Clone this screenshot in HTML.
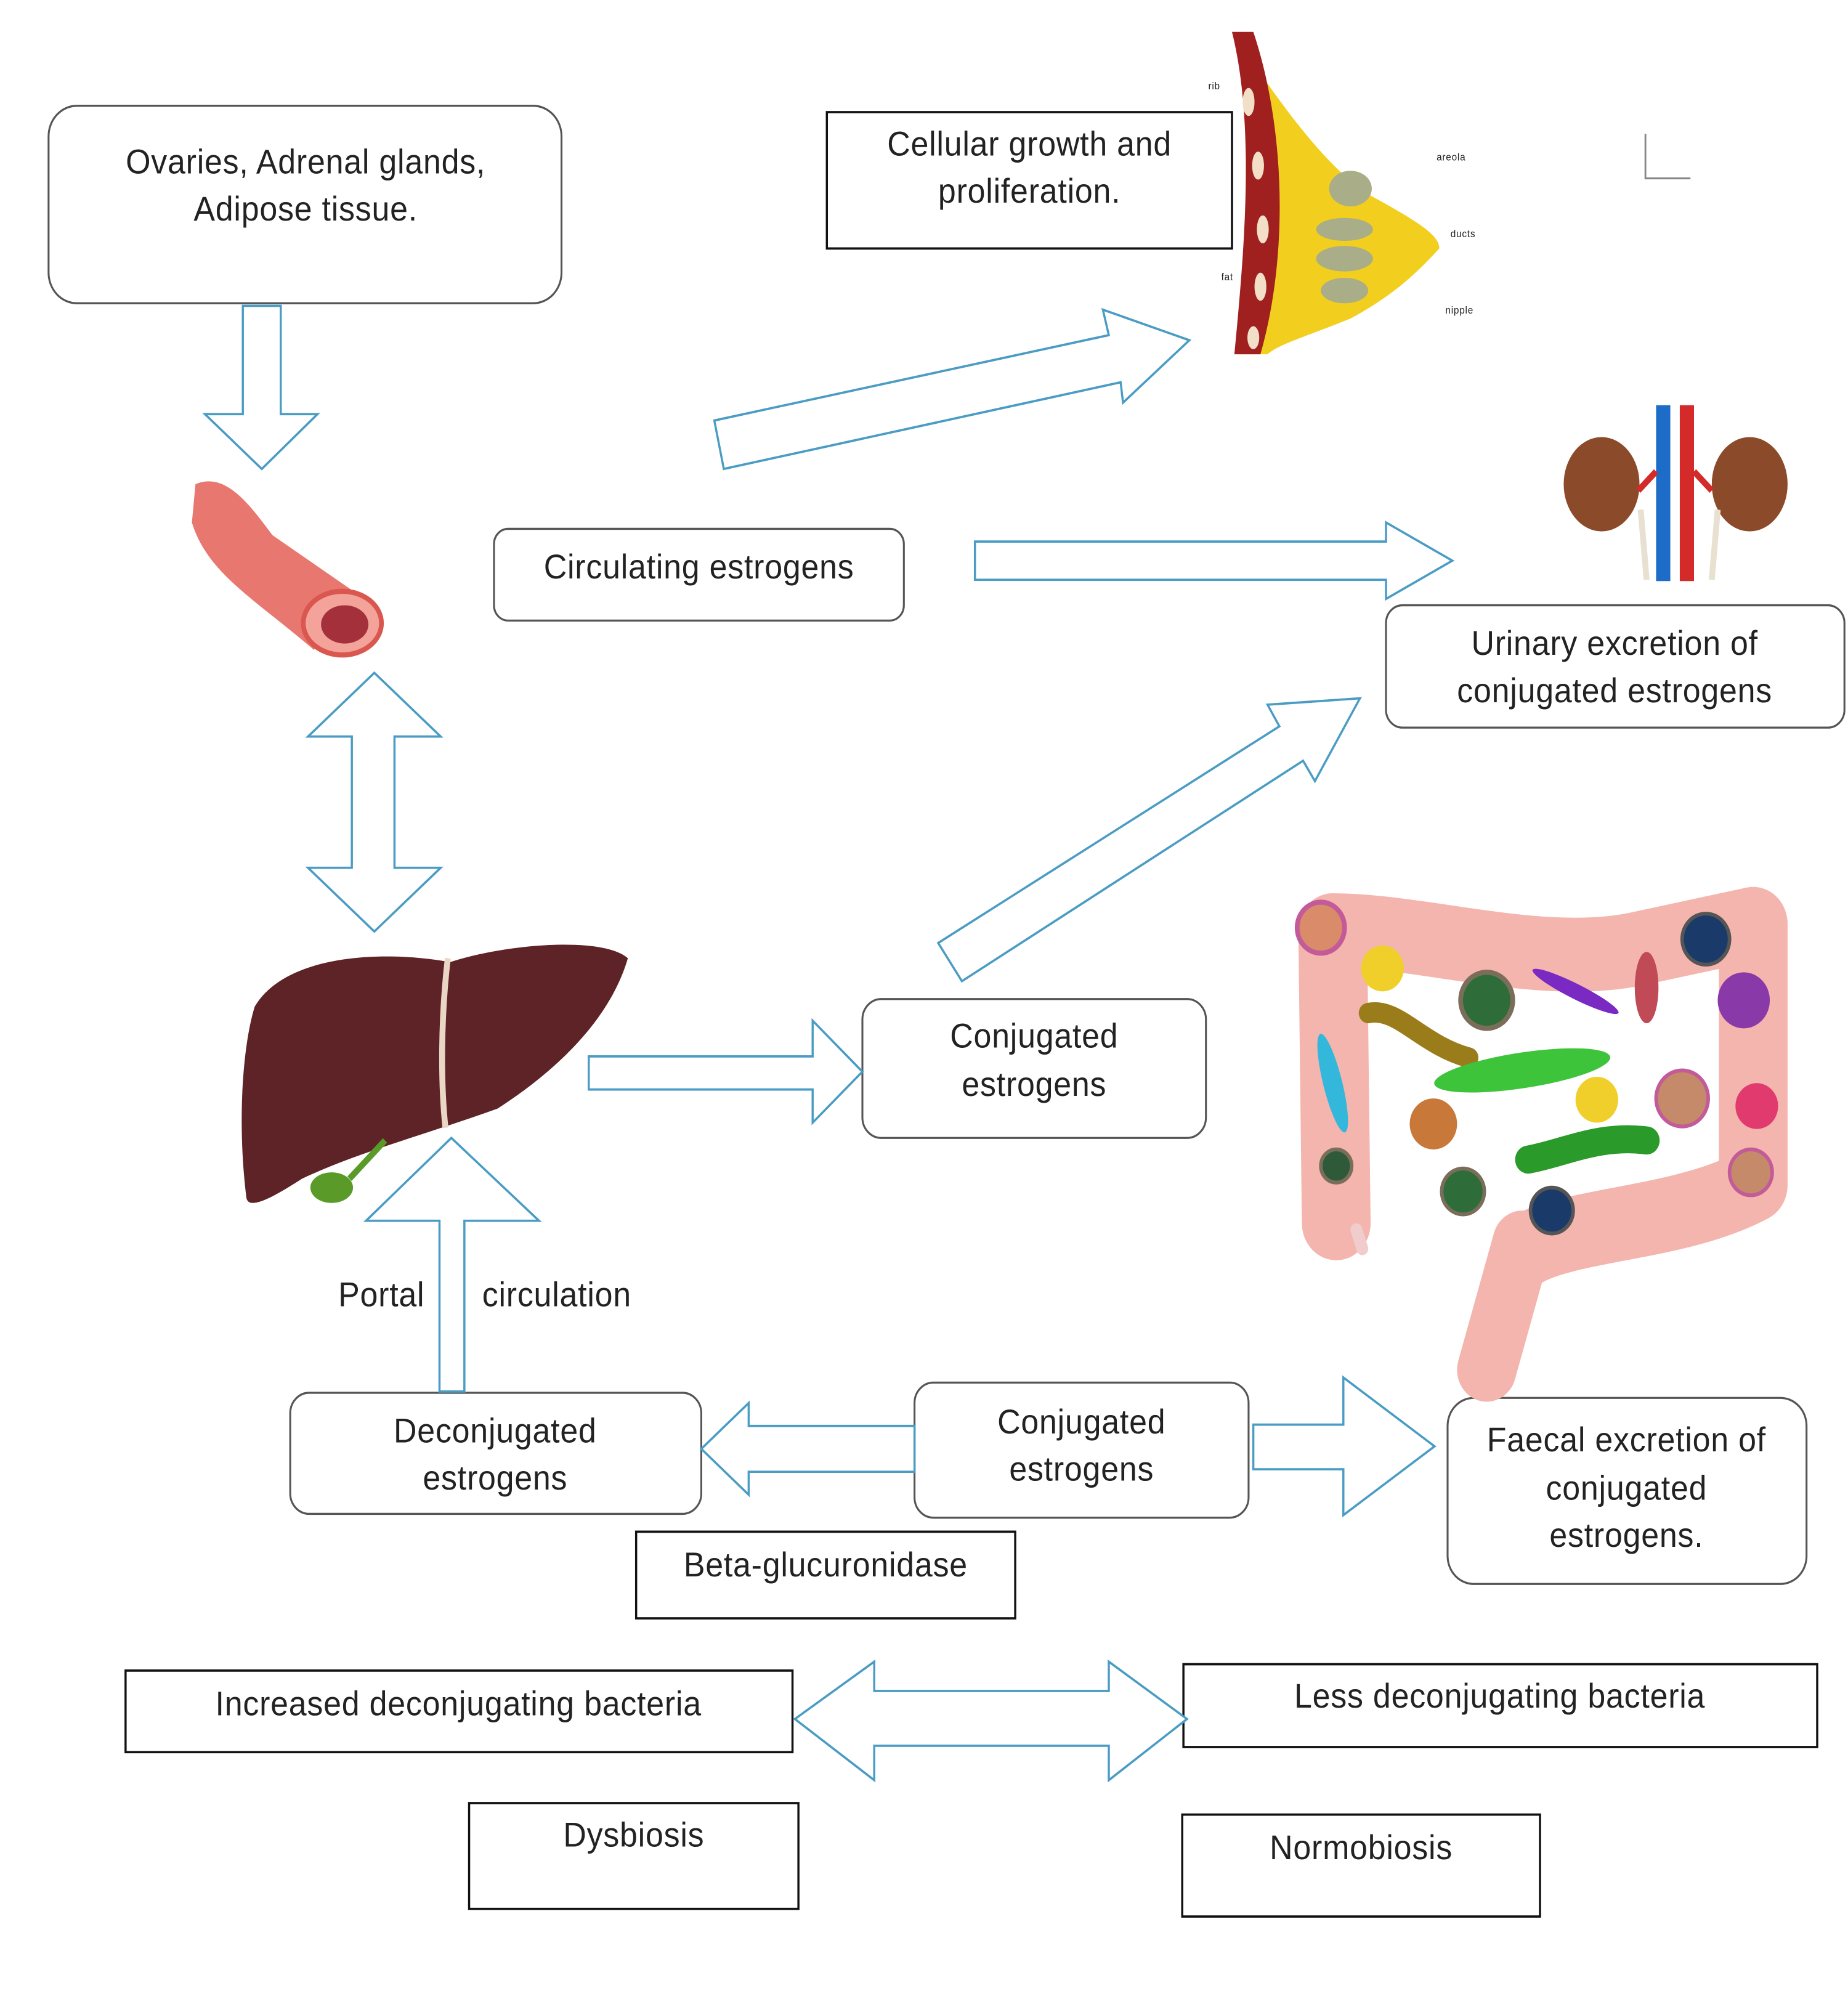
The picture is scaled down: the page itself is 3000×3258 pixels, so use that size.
<!DOCTYPE html>
<html><head><meta charset="utf-8"><style>
html,body{margin:0;padding:0;background:#fff}
svg{display:block}
text{font-family:"Liberation Sans",sans-serif;font-size:27px;letter-spacing:0.4px;fill:#222;text-anchor:middle}
</style></head><body>
<svg width="3000" height="3258" viewBox="0 0 1560 1575" preserveAspectRatio="none" xmlns="http://www.w3.org/2000/svg">
<rect width="1560" height="1575" fill="#fff"/>
<g fill="#fff" stroke="#555" stroke-width="1.6">
<rect x="41" y="83" width="433" height="155" rx="24"/>
<rect x="417" y="415" width="346" height="72" rx="12"/>
<rect x="1170" y="475" width="387" height="96" rx="14"/>
<rect x="728" y="784" width="290" height="109" rx="16"/>
<rect x="245" y="1093" width="347" height="95" rx="16"/>
<rect x="772" y="1085" width="282" height="106" rx="16"/>
<rect x="1222" y="1097" width="303" height="146" rx="22"/>
</g>
<g fill="#fff" stroke="#111" stroke-width="1.8">
<rect x="698" y="88" width="342" height="107"/>
<rect x="537" y="1202" width="320" height="68"/>
<rect x="106" y="1311" width="563" height="64"/>
<rect x="999" y="1306" width="535" height="65"/>
<rect x="396" y="1415" width="278" height="83"/>
<rect x="998" y="1424" width="302" height="80"/>
</g>
<path d="M1389 105 V140 H1427" fill="none" stroke="#888" stroke-width="1.5"/>
<g fill="#fff" stroke="#4a9cc4" stroke-width="1.8" stroke-linejoin="miter">
<polygon points="205,240 237,240 237,325 268,325 221,368 173,325 205,325"/>
<polygon points="316,528 372,578 333,578 333,681 372,681 316,731 260,681 297,681 297,578 260,578"/>
<polygon points="497,829 686,829 686,801 728,841 686,881 686,855 497,855"/>
<polygon points="823,425 1170,425 1170,410 1226,440 1170,470 1170,455 823,455"/>
<polygon points="603,330 936,263 931,243 1004,267 948,316 946,300 611,368"/>
<polygon points="792,740 1080,570 1070,553 1148,548 1110,613 1100,597 812,770"/>
<polygon points="371,1092 371,958 309,958 381,893 455,958 392,958 392,1092"/>
<polygon points="772,1119 632,1119 632,1101 592,1137 632,1173 632,1155 772,1155"/>
<polygon points="1058,1118 1134,1118 1134,1081 1211,1135 1134,1189 1134,1153 1058,1153"/>
<polygon points="671,1349 738,1304 738,1327 936,1327 936,1304 1002,1349 936,1397 936,1370 738,1370 738,1397"/>
</g>
<text x="258" y="136">Ovaries, Adrenal glands,</text>
<text x="258" y="173">Adipose tissue.</text>
<text x="869" y="122">Cellular growth and</text>
<text x="869" y="159">proliferation.</text>
<text x="590" y="454">Circulating estrogens</text>
<text x="1363" y="514">Urinary excretion of</text>
<text x="1363" y="551">conjugated estrogens</text>
<text x="873" y="822">Conjugated</text>
<text x="873" y="860">estrogens</text>
<text x="322" y="1025">Portal</text>
<text x="470" y="1025">circulation</text>
<text x="418" y="1132">Deconjugated</text>
<text x="418" y="1169">estrogens</text>
<text x="913" y="1125">Conjugated</text>
<text x="913" y="1162">estrogens</text>
<text x="1373" y="1139">Faecal excretion of</text>
<text x="1373" y="1177">conjugated</text>
<text x="1373" y="1214">estrogens.</text>
<text x="697" y="1237">Beta-glucuronidase</text>
<text x="387" y="1346">Increased deconjugating bacteria</text>
<text x="1266" y="1340">Less deconjugating bacteria</text>
<text x="535" y="1449">Dysbiosis</text>
<text x="1149" y="1459">Normobiosis</text>
<!-- breast -->
<path d="M1040,25 C1080,80 1110,120 1150,150 C1200,175 1215,185 1215,195 C1200,210 1180,230 1140,250 C1100,265 1080,270 1070,278 L1045,278 C1060,200 1060,100 1040,25 Z" fill="#f2cf1e"/>
<path d="M1040,25 L1058,25 C1085,100 1088,200 1064,278 L1042,278 C1050,200 1060,100 1040,25 Z" fill="#a01f1f"/>
<g fill="#f3dfc8"><ellipse cx="1054" cy="80" rx="5" ry="11"/><ellipse cx="1062" cy="130" rx="5" ry="11"/><ellipse cx="1066" cy="180" rx="5" ry="11"/><ellipse cx="1064" cy="225" rx="5" ry="11"/><ellipse cx="1058" cy="265" rx="5" ry="9"/></g>
<g fill="#a9ad88"><ellipse cx="1140" cy="148" rx="18" ry="14"/><ellipse cx="1135" cy="180" rx="24" ry="9"/><ellipse cx="1135" cy="203" rx="24" ry="10"/><ellipse cx="1135" cy="228" rx="20" ry="10"/></g>
<text x="1025" y="70" style="font-size:8px">rib</text><text x="1225" y="126" style="font-size:8px">areola</text><text x="1235" y="186" style="font-size:8px">ducts</text><text x="1036" y="220" style="font-size:8px">fat</text><text x="1232" y="246" style="font-size:8px">nipple</text>
<!-- vessel -->
<path d="M165,380 C190,370 210,395 230,420 L300,465 L265,510 C215,470 175,450 162,410 Z" fill="#e8776f"/>
<ellipse cx="289" cy="489" rx="33" ry="25" fill="#f4a39a" stroke="#d9574f" stroke-width="4"/>
<ellipse cx="291" cy="490" rx="20" ry="15" fill="#a3303a"/>
<!-- kidneys -->
<ellipse cx="1352" cy="380" rx="32" ry="37" fill="#8b4a2a"/>
<ellipse cx="1477" cy="380" rx="32" ry="37" fill="#8b4a2a"/>
<rect x="1398" y="318" width="12" height="138" fill="#1d6cc8"/>
<rect x="1418" y="318" width="12" height="138" fill="#d42a2a"/>
<path d="M1383,385 L1398,370 M1445,385 L1430,370" stroke="#d42a2a" stroke-width="5"/>
<path d="M1385,400 L1390,455 M1450,400 L1445,455" stroke="#e8e0d0" stroke-width="5"/>
<!-- liver -->
<path d="M215,790 C240,750 320,745 380,755 C430,740 510,735 530,752 C515,800 470,840 420,870 C360,890 300,905 255,925 C230,940 210,950 208,940 C200,880 205,820 215,790 Z" fill="#5d2326"/>
<path d="M378,752 C372,800 372,850 376,885" stroke="#e9d6c4" stroke-width="5" fill="none"/>
<ellipse cx="280" cy="932" rx="18" ry="12" fill="#5a9a28"/>
<path d="M295,925 L325,895" stroke="#5a9a28" stroke-width="5"/>
<!-- intestine -->
<g fill="none" stroke="#f3b5ae" stroke-linecap="round" stroke-linejoin="round">
<path d="M1128,960 L1125,730 C1200,730 1300,760 1380,745 L1480,725 L1480,930 C1420,960 1330,960 1290,980" stroke-width="58"/>
<path d="M1285,975 L1255,1075" stroke-width="50"/>
<path d="M1145,965 L1150,980" stroke="#f1cccc" stroke-width="10"/>
</g>
<g>
<circle cx="1115" cy="728" r="20" fill="#d98b6a" stroke="#c35a9a" stroke-width="4"/>
<circle cx="1167" cy="760" r="18" fill="#f0cf2a"/>
<circle cx="1255" cy="785" r="22" fill="#2e6d3a" stroke="#7a6e5a" stroke-width="4"/>
<path d="M1155,795 C1180,790 1200,820 1240,830" stroke="#9a7d1a" stroke-width="16" fill="none" stroke-linecap="round"/>
<ellipse cx="1285" cy="840" rx="75" ry="14" transform="rotate(-8 1285 840)" fill="#3ec43a"/>
<ellipse cx="1330" cy="778" rx="40" ry="6" transform="rotate(25 1330 778)" fill="#7a2ac2"/>
<ellipse cx="1390" cy="775" rx="10" ry="28" fill="#c04a55"/>
<ellipse cx="1125" cy="850" rx="8" ry="40" transform="rotate(-15 1125 850)" fill="#33b8dc"/>
<circle cx="1440" cy="737" r="20" fill="#1a3a6a" stroke="#555" stroke-width="3"/>
<circle cx="1472" cy="785" r="22" fill="#8a3aa8"/>
<circle cx="1210" cy="882" r="20" fill="#c8793a"/>
<circle cx="1348" cy="863" r="18" fill="#f0cf2a"/>
<circle cx="1420" cy="862" r="22" fill="#c48a6a" stroke="#c35a9a" stroke-width="3"/>
<circle cx="1483" cy="868" r="18" fill="#e03a6e"/>
<path d="M1290,910 C1320,905 1350,890 1390,895" stroke="#2a9a2a" stroke-width="22" fill="none" stroke-linecap="round"/>
<circle cx="1128" cy="915" r="13" fill="#2e5a3a" stroke="#7a6e5a" stroke-width="3"/>
<circle cx="1235" cy="935" r="18" fill="#2e6d3a" stroke="#7a6e5a" stroke-width="3"/>
<circle cx="1310" cy="950" r="18" fill="#1a3a6a" stroke="#555" stroke-width="3"/>
<circle cx="1478" cy="920" r="18" fill="#c48a6a" stroke="#c35a9a" stroke-width="3"/>
</g>
</svg>
</body></html>
